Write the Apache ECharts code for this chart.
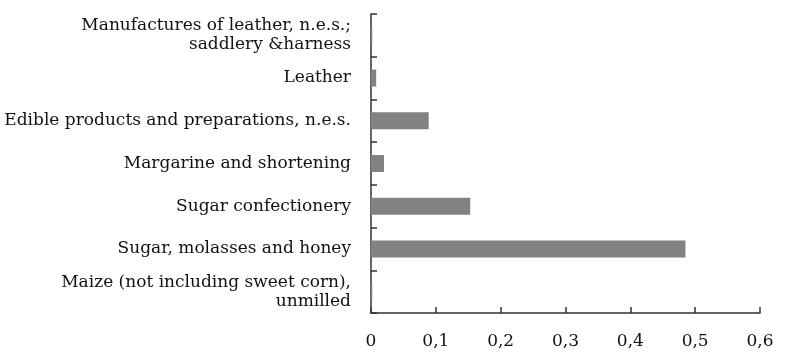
<!DOCTYPE html>
<html>
<head>
<meta charset="utf-8">
<script src="https://cdn.jsdelivr.net/npm/echarts@6/dist/echarts.min.js"></script>
<style>html,body{margin:0;padding:0;background:#fff}#c{width:788px;height:362px}</style>
</head>
<body>
<div id="c"></div>
<script>
var categories = [
  "Maize (not including sweet corn),\nunmilled",
  "Sugar, molasses and honey",
  "Sugar confectionery",
  "Margarine and shortening",
  "Edible products and preparations, n.e.s.",
  "Leather",
  "Manufactures of leather, n.e.s.;\nsaddlery &harness"
];
var values = [0.002, 0.485, 0.153, 0.02, 0.089, 0.008, 0.002];
var tickMin = 0, tickMax = 0.6, tickStep = 0.1;

var font = "DejaVu Serif";
var chart = echarts.init(document.getElementById('c'), null, {renderer: 'canvas'});
chart.setOption({
  animation: false,
  grid: {left: 371, right: 28, top: 14, bottom: 49, containLabel: false},
  xAxis: {
    type: 'value', min: tickMin, max: tickMax, interval: tickStep,
    axisLine: {show: true, lineStyle: {color: '#333', width: 1.5}},
    axisTick: {show: true, inside: true, length: 6, lineStyle: {color: '#333', width: 1.5}},
    splitLine: {show: false},
    axisLabel: {
      margin: 20, color: '#111', fontFamily: font, fontSize: 17,
      formatter: function (v) { return String(+v.toFixed(1)).replace('.', ','); }
    }
  },
  yAxis: {
    type: 'category', data: categories,
    axisLine: {show: true, lineStyle: {color: '#333', width: 1.5}},
    axisTick: {show: true, inside: true, length: 6, lineStyle: {color: '#333', width: 1.5}},
    axisLabel: {margin: 20, color: '#111', fontFamily: font, fontSize: 17, lineHeight: 19, align: 'right'}
  },
  series: [{
    type: 'bar', data: values, barWidth: 17,
    itemStyle: {color: '#828282'}
  }]
});
</script>
</body>
</html>
